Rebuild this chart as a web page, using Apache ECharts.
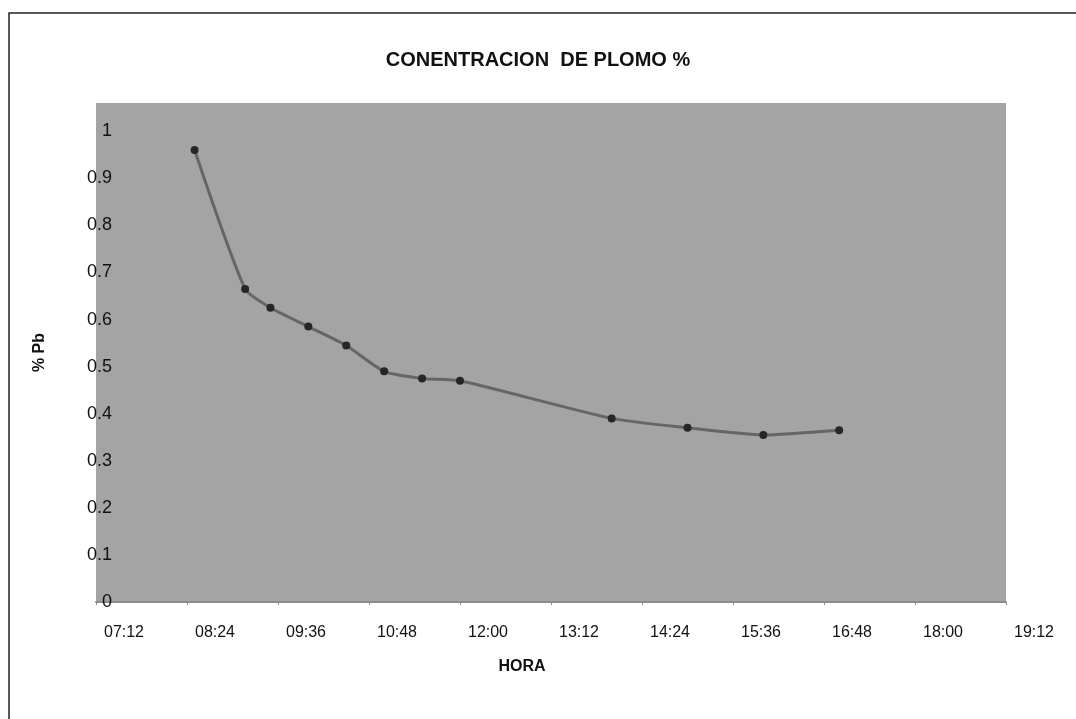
<!DOCTYPE html>
<html>
<head>
<meta charset="utf-8">
<title>CONENTRACION DE PLOMO %</title>
<script src="https://cdn.jsdelivr.net/npm/echarts@6/dist/echarts.min.js"></script>
<style>
  html, body { margin: 0; padding: 0; background: #ffffff; }
  #chart { width: 1076px; height: 719px; }
</style>
</head>
<body>
<div id="chart"></div>
<script>
// Sampling times (HH:MM) and lead concentration (% Pb)
const horas = ['08:30', '09:10', '09:30', '10:00', '10:30', '11:00', '11:30', '12:00', '14:00', '15:00', '16:00', '17:00'];
const plomo = [0.96, 0.665, 0.625, 0.585, 0.545, 0.49, 0.475, 0.47, 0.39, 0.37, 0.355, 0.365];

// Axis ticks: 07:12 .. 19:12 every 72 minutes
const ejeX = { min: '07:12', max: '19:12', paso: 72 };
const ejeY = { min: 0, max: 1.06, paso: 0.1 };

const aMinutos = s => { const [h, m] = s.split(':').map(Number); return h * 60 + m; };
const aHora = v => {
  const h = Math.floor(v / 60), m = Math.round(v % 60);
  return String(h).padStart(2, '0') + ':' + String(m).padStart(2, '0');
};

const serie = horas.map((h, i) => [aMinutos(h), plomo[i]]);

const chart = echarts.init(document.getElementById('chart'), null, { renderer: 'canvas' });

const fuente = '"Liberation Sans", Arial, sans-serif';

chart.setOption({
  animation: false,
  backgroundColor: '#ffffff',
  title: {
    text: 'CONENTRACION  DE PLOMO %',
    left: 533,
    textAlign: 'center',
    top: 45,
    textStyle: { fontFamily: fuente, fontSize: 20, fontWeight: 'bold', color: '#111' }
  },
  graphic: [{
    type: 'polyline',
    shape: { points: [[9, 730], [9, 13], [1080, 13]] },
    style: { stroke: '#222', lineWidth: 1.5, fill: null },
    silent: true
  }],
  grid: {
    left: 96, right: 70, top: 103, bottom: 117,
    show: true,
    backgroundColor: '#a4a4a4',
    borderWidth: 0
  },
  xAxis: {
    type: 'value',
    min: aMinutos(ejeX.min),
    max: aMinutos(ejeX.max),
    interval: ejeX.paso,
    name: 'HORA',
    nameLocation: 'middle',
    nameGap: 57,
    nameTextStyle: { fontFamily: fuente, fontSize: 16, fontWeight: 'bold', color: '#111', padding: [0, 58, 0, 0] },
    axisLine: { show: true, lineStyle: { color: '#8c8c8c', width: 2 } },
    axisTick: { show: true, length: 3, lineStyle: { color: '#8a8a8a' } },
    splitLine: { show: false },
    axisLabel: {
      formatter: v => aHora(v),
      fontFamily: fuente,
      fontSize: 16,
      color: '#111',
      margin: 23,
      padding: [0, 0, 0, 56]
    }
  },
  yAxis: {
    type: 'value',
    min: ejeY.min,
    max: ejeY.max,
    interval: ejeY.paso,
    name: '% Pb',
    nameLocation: 'middle',
    nameGap: 48,
    nameRotate: 90,
    nameTextStyle: { fontFamily: fuente, fontSize: 16, fontWeight: 'bold', color: '#111' },
    axisLine: { show: false },
    axisTick: { show: false },
    splitLine: { show: false },
    axisLabel: {
      showMaxLabel: false,
      formatter: v => (v > 1.001 ? '' : String(Math.round(v * 10) / 10)),
      fontFamily: fuente,
      fontSize: 18,
      color: '#111',
      margin: -16
    }
  },
  series: [{
    type: 'line',
    data: serie,
    smooth: 0.2,
    symbol: 'circle',
    symbolSize: 8,
    lineStyle: { color: '#666666', width: 3 },
    itemStyle: { color: '#262626', borderWidth: 0 },
    z: 3
  }]
});
</script>
</body>
</html>
